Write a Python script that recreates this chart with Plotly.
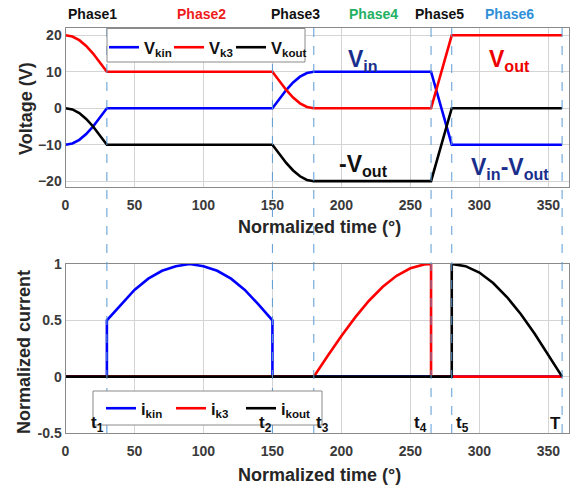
import plotly.graph_objects as go

# ---------------- data ----------------
t_v = [0, 5, 10, 15, 20, 25, 30, 150, 155, 160, 165, 170, 175, 180, 265, 280, 360]
v_kin = [-10, -9.66, -8.66, -7.07, -5.0, -2.59, 0, 0, 2.59, 5.0, 7.07, 8.66, 9.66, 10, 10, -10, -10]
v_k3 = [20, 19.66, 18.66, 17.07, 15.0, 12.59, 10, 10, 7.41, 5.0, 2.93, 1.34, 0.34, 0, 0, 20, 20]
v_kout = [0, -0.34, -1.34, -2.93, -5.0, -7.41, -10, -10, -12.59, -15.0, -17.07, -18.66, -19.66, -20, -20, 0, 0]

t_ikin = [0, 30, 30, 40, 50, 60, 70, 80, 90, 100, 110, 120, 130, 140, 150, 150, 360]
i_kin = [0, 0, 0.5, 0.64, 0.77, 0.87, 0.94, 0.98, 1, 0.98, 0.94, 0.87, 0.77, 0.64, 0.5, 0, 0]
t_ik3 = [0, 180, 190, 200, 210, 220, 230, 240, 250, 260, 265, 265, 360]
i_k3 = [0, 0, 0.184, 0.361, 0.526, 0.674, 0.798, 0.895, 0.962, 0.996, 1, 0, 0]
t_ikout = [0, 280, 280, 290, 300, 310, 320, 330, 340, 350, 360]
i_kout = [0, 0, 1, 0.981, 0.924, 0.831, 0.707, 0.556, 0.383, 0.195, 0]

switch_times = [30, 150, 180, 265, 280, 360]
phase_labels = ["Phase1", "Phase2", "Phase3", "Phase4", "Phase5", "Phase6"]
phase_colors = ["#111111", "#ee1c1c", "#111111", "#22b062", "#111111", "#2f8fd8"]
phase_px = [92, 201, 296, 373, 440, 509]

x_ticks = [0, 50, 100, 150, 200, 250, 300, 350]
v_ticks = [-20, -10, 0, 10, 20]
i_ticks = [-0.5, 0, 0.5, 1]

t_label_text = ["t<sub>1</sub>", "t<sub>2</sub>", "t<sub>3</sub>", "t<sub>4</sub>", "t<sub>5</sub>", "T"]
t_label_x = [23, 145, 186, 257, 288, 355]

# ---------------- figure ----------------
W, H = 571, 489
FONT = "Liberation Sans"
BLUE, RED, BLACK = "#0000ff", "#ff0000", "#000000"
NAVY = "#1a2f8c"

fig = go.Figure()
lw = 2.6
fig.add_trace(go.Scatter(x=t_v, y=v_kin, mode="lines", line=dict(color=BLUE, width=lw),
                         name="V<sub>kin</sub>", xaxis="x", yaxis="y", legend="legend"))
fig.add_trace(go.Scatter(x=t_v, y=v_k3, mode="lines", line=dict(color=RED, width=lw),
                         name="V<sub>k3</sub>", xaxis="x", yaxis="y", legend="legend3"))
fig.add_trace(go.Scatter(x=t_v, y=v_kout, mode="lines", line=dict(color=BLACK, width=lw),
                         name="V<sub>kout</sub>", xaxis="x", yaxis="y", legend="legend4"))

fig.add_trace(go.Scatter(x=t_ikin, y=i_kin, mode="lines", line=dict(color=BLUE, width=lw),
                         name="i<sub>kin</sub>", xaxis="x2", yaxis="y2", legend="legend2"))
fig.add_trace(go.Scatter(x=t_ik3, y=i_k3, mode="lines", line=dict(color=RED, width=lw),
                         name="i<sub>k3</sub>", xaxis="x2", yaxis="y2", legend="legend2"))
fig.add_trace(go.Scatter(x=t_ikout, y=i_kout, mode="lines", line=dict(color=BLACK, width=lw),
                         name="i<sub>kout</sub>", xaxis="x2", yaxis="y2", legend="legend2"))
fig.update_traces(showlegend=True)

x0, x1 = 65.5 / W, 569 / W
top_dom = [1 - 187 / H, 1 - 28 / H]
bot_dom = [1 - 433 / H, 1 - 264 / H]

tickfont = dict(family=FONT, size=14, color="#3a3a3a", weight="bold")
axis_common = dict(showline=True, linecolor="#8a8a8a", linewidth=1, mirror=True,
                   showgrid=True, gridcolor="#d4d4d4", gridwidth=1, zeroline=False,
                   ticks="", tickfont=tickfont, automargin=False)

legfont = dict(family=FONT, size=16.5, color="#111111", weight="bold")
leg_common = dict(orientation="h", xanchor="left", yanchor="top",
                  bgcolor="rgba(0,0,0,0)", borderwidth=0, font=legfont,
                  itemwidth=30, entrywidthmode="pixels", visible=True)
fig.update_layout(
    width=W, height=H, margin=dict(l=0, r=0, t=0, b=0, autoexpand=False),
    paper_bgcolor="white", plot_bgcolor="white", showlegend=True,
    xaxis=dict(domain=[x0, x1], range=[0, 365], tickvals=x_ticks, anchor="y",
               ticklabelstandoff=5, **axis_common),
    yaxis=dict(domain=top_dom, range=[-21.6, 22], tickvals=v_ticks, anchor="x", **axis_common),
    xaxis2=dict(domain=[x0, x1], range=[0, 365], tickvals=x_ticks, anchor="y2",
                ticklabelstandoff=5, **axis_common),
    yaxis2=dict(domain=bot_dom, range=[-0.5, 1], tickvals=i_ticks, anchor="x2",
                ticktext=["-0.5", "0", "0.5", "1"], **axis_common),
    legend=dict(x=104 / W, y=1 - 30 / H, entrywidth=40, **leg_common),
    legend3=dict(x=169 / W, y=1 - 30 / H, entrywidth=40, **leg_common),
    legend4=dict(x=231 / W, y=1 - 30 / H, entrywidth=40, **leg_common),
    legend2=dict(x=101 / W, y=1 - 391 / H, entrywidth=25, **leg_common),
)

# dashed switching lines spanning both panels, then legend boxes on top of them
shapes = []
for t in switch_times:
    shapes.append(dict(type="line", xref="x", yref="paper", x0=t, x1=t,
                       y0=bot_dom[0], y1=top_dom[1],
                       line=dict(color="#5b9bd5", width=1, dash="dash"), layer="above"))
shapes.append(dict(type="rect", xref="paper", yref="paper",
                   x0=107 / W, x1=305 / W, y0=1 - 62 / H, y1=1 - 28.5 / H,
                   fillcolor="white", line=dict(color="#8a8a8a", width=1), layer="above"))
shapes.append(dict(type="rect", xref="paper", yref="paper",
                   x0=93 / W, x1=322 / W, y0=1 - 425 / H, y1=1 - 391 / H,
                   fillcolor="white", line=dict(color="#8a8a8a", width=1), layer="above"))
fig.update_layout(shapes=shapes)

ann = []
for lab, col, px in zip(phase_labels, phase_colors, phase_px):
    ann.append(dict(text=lab, x=px / W, y=1 - 14 / H, xref="paper", yref="paper",
                    xanchor="center", yanchor="middle",
                    showarrow=False, font=dict(family=FONT, size=14, color=col, weight="bold")))

titlefont = dict(family=FONT, size=18, color="#262626", weight="bold")
ann += [
    dict(text="Voltage (V)", x=26 / W, y=1 - 109 / H, xref="paper", yref="paper",
         textangle=-90, showarrow=False, font=titlefont, xanchor="center", yanchor="middle"),
    dict(text="Normalized current", x=24 / W, y=1 - 352 / H, xref="paper", yref="paper",
         textangle=-90, showarrow=False, font=titlefont, xanchor="center", yanchor="middle"),
    dict(text="Normalized time (°)", x=319 / W, y=1 - 227 / H, xref="paper", yref="paper",
         showarrow=False, font=titlefont, xanchor="center", yanchor="middle"),
    dict(text="Normalized time (°)", x=319 / W, y=1 - 475 / H, xref="paper", yref="paper",
         showarrow=False, font=titlefont, xanchor="center", yanchor="middle"),
]

big = dict(family=FONT, size=23, weight="bold")
ann += [
    dict(text="V<sub>in</sub>", x=216, y=13.2, xref="x", yref="y", showarrow=False,
         font=dict(big, color=NAVY)),
    dict(text="V<sub>out</sub>", x=322, y=13.2, xref="x", yref="y", showarrow=False,
         font=dict(big, color="#ee0000")),
    dict(text="-V<sub>out</sub>", x=216, y=-15.6, xref="x", yref="y", showarrow=False,
         font=dict(big, color="#111111")),
    dict(text="V<sub>in</sub>-V<sub>out</sub>", x=322, y=-16.5, xref="x", yref="y", showarrow=False,
         font=dict(big, color=NAVY)),
]
for txt, tx in zip(t_label_text, t_label_x):
    ann.append(dict(text=txt, x=tx, y=-0.42, xref="x2", yref="y2", showarrow=False,
                    font=dict(family=FONT, size=17, color="#111111", weight="bold")))
fig.update_layout(annotations=ann)

fig.write_html("out.html")
